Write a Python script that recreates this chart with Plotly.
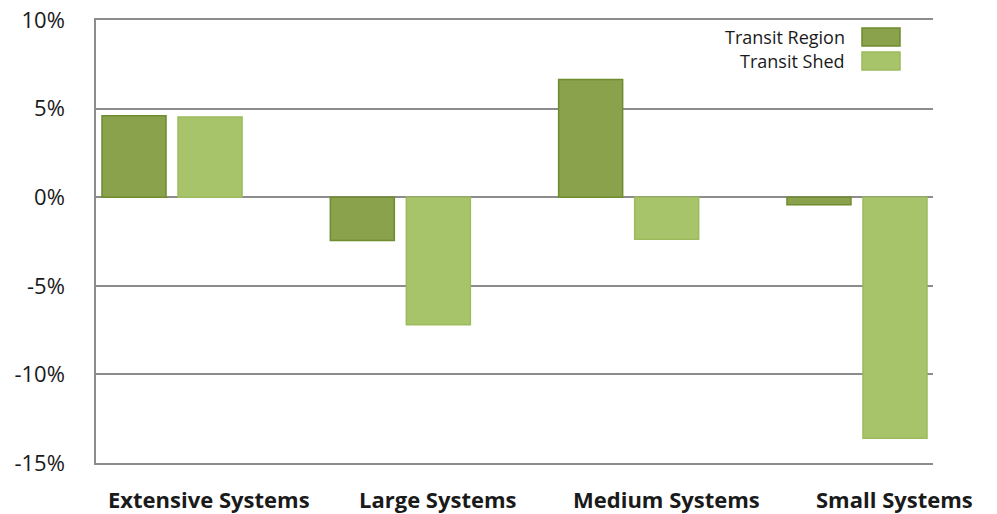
import plotly.graph_objects as go

categories = ["Extensive Systems", "Large Systems", "Medium Systems", "Small Systems"]
transit_region = [4.6, -2.45, 6.64, -0.42]
transit_shed = [4.52, -7.2, -2.38, -13.6]
series_names = ["Transit Region", "Transit Shed"]
y_ticks = [-15, -10, -5, 0, 5, 10]
y_tick_labels = ["-15%", "-10%", "-5%", "0%", "5%", "10%"]

fill_colors = ["#8AA24C", "#A8C46A"]
line_colors = ["#6F8C2E", "#9CBB5C"]

fig = go.Figure()
for name, vals, fc, lc in zip(series_names, [transit_region, transit_shed], fill_colors, line_colors):
    fig.add_trace(go.Bar(x=categories, y=vals, name=name,
                         marker=dict(color=fc, line=dict(color=lc, width=1.5)),
                         showlegend=False))

font_main = "Open Sans, DejaVu Sans, sans-serif"

fig.update_layout(
    width=997, height=514,
    margin=dict(l=96, r=64, t=20, b=51, autoexpand=False),
    paper_bgcolor="white", plot_bgcolor="white",
    barmode="group", bargap=0.334, bargroupgap=0.158,
    xaxis=dict(type="category", range=[-0.333, 3.333], showticklabels=False,
               showgrid=False, zeroline=False, showline=True, mirror=True,
               linecolor="#8C8C8C", linewidth=1.5, ticks="", automargin=False),
    yaxis=dict(range=[-15, 10], tickvals=y_ticks, ticktext=y_tick_labels,
               showgrid=True, gridcolor="#8C8C8C", gridwidth=1.5,
               zeroline=True, zerolinecolor="#8C8C8C", zerolinewidth=1.5,
               showline=True, linecolor="#8C8C8C", linewidth=1.5,
               ticks="", ticklabelstandoff=25, automargin=False,
               tickfont=dict(family=font_main, size=22, color="#1a1a1a")),
    font=dict(family=font_main, color="#1a1a1a"),
)

# category labels (offset to the right as in the reference)
for i, cat in enumerate(categories):
    fig.add_annotation(x=i + 0.164, xref="x", y=0, yref="paper", yshift=-36,
                       text="<b>%s</b>" % cat, showarrow=False,
                       font=dict(family=font_main, size=22, color="#1a1a1a"),
                       xanchor="center", yanchor="middle")

# manual legend: text left of swatch (positions in plot-area pixels)
plot_w, plot_h = 837, 443
for k, (name, fc, lc) in enumerate(zip(series_names, fill_colors, line_colors)):
    cy = 37 + k * 24 - 20
    fig.add_shape(type="rect", xref="paper", yref="paper",
                  x0=(862 - 96) / plot_w, x1=(900 - 96) / plot_w,
                  y0=1 - (cy + 9) / plot_h, y1=1 - (cy - 9) / plot_h,
                  fillcolor=fc, line=dict(color=lc, width=1.5))
    fig.add_annotation(x=(847 - 96) / plot_w, xref="paper", y=1 - cy / plot_h, yref="paper",
                       text=name, showarrow=False, xanchor="right", yanchor="middle",
                       font=dict(family=font_main, size=18, color="#1a1a1a"))

fig.write_html("out.html", config={"displayModeBar": False},
               post_script="document.body.style.margin='0';")
